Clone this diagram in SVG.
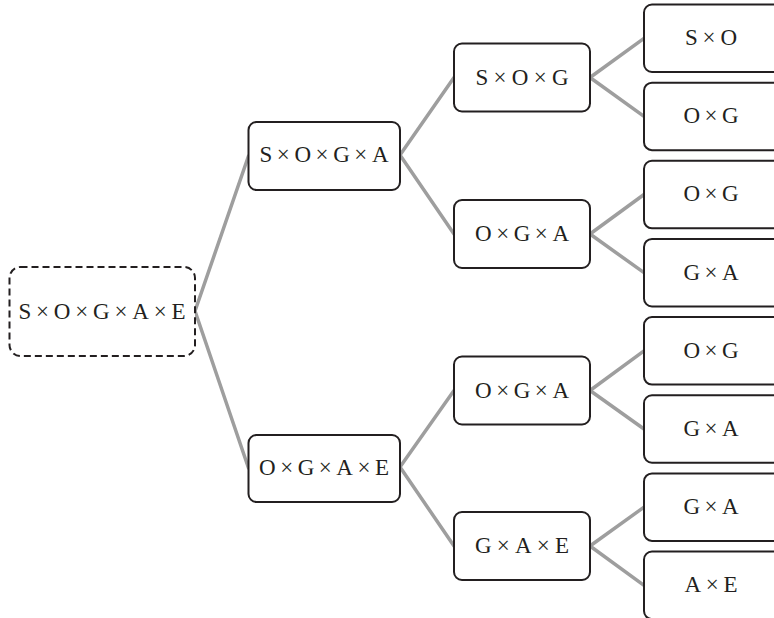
<svg xmlns="http://www.w3.org/2000/svg" width="774" height="618" viewBox="0 0 774 618">
<style>
.box{fill:#fff;stroke:#231f20;stroke-width:2}
.dash{stroke-dasharray:7 4}
.lbl{font-family:"Liberation Serif","Times New Roman",serif;font-size:23px;fill:#231f20;text-anchor:middle}
.conn line{stroke:#9e9e9e;stroke-width:3.5;stroke-linecap:round}
</style>
<rect width="774" height="618" fill="#fff"/>
<g id="connectors" class="conn">
<line x1="195" y1="311" x2="248.5" y2="156"/>
<line x1="195" y1="311" x2="248.5" y2="468"/>
<line x1="400" y1="155" x2="454" y2="77.5"/>
<line x1="400" y1="155" x2="454" y2="234"/>
<line x1="400" y1="467" x2="454" y2="390.5"/>
<line x1="400" y1="467" x2="454" y2="546"/>
<line x1="590" y1="77.5" x2="644" y2="38.3"/>
<line x1="590" y1="77.5" x2="644" y2="116.4"/>
<line x1="590" y1="234" x2="644" y2="194.5"/>
<line x1="590" y1="234" x2="644" y2="272.7"/>
<line x1="590" y1="390.5" x2="644" y2="350.9"/>
<line x1="590" y1="390.5" x2="644" y2="429"/>
<line x1="590" y1="546" x2="644" y2="507.2"/>
<line x1="590" y1="546" x2="644" y2="585.3"/>
</g>
<g id="root">
<rect class="box dash" x="9.5" y="267" width="185.5" height="89" rx="11"/>
<text class="lbl" x="102" y="318.5" textLength="167" lengthAdjust="spacing">S×O×G×A×E</text>
</g>
<g id="n_SOGA">
<rect class="box" x="248.5" y="122" width="151.5" height="68" rx="8"/>
<text class="lbl" x="324" y="162" textLength="129" lengthAdjust="spacing">S×O×G×A</text>
</g>
<g id="n_OGAE">
<rect class="box" x="248.5" y="435" width="151.5" height="67" rx="8"/>
<text class="lbl" x="324" y="475" textLength="130" lengthAdjust="spacing">O×G×A×E</text>
</g>
<g id="n_SOG">
<rect class="box" x="454" y="43.5" width="136" height="68" rx="8"/>
<text class="lbl" x="522" y="84.5" textLength="93" lengthAdjust="spacing">S×O×G</text>
</g>
<g id="n_OGA1">
<rect class="box" x="454" y="200" width="136" height="68" rx="8"/>
<text class="lbl" x="522" y="241" textLength="94" lengthAdjust="spacing">O×G×A</text>
</g>
<g id="n_OGA2">
<rect class="box" x="454" y="356.5" width="136" height="68" rx="8"/>
<text class="lbl" x="522" y="397.5" textLength="94" lengthAdjust="spacing">O×G×A</text>
</g>
<g id="n_GAE">
<rect class="box" x="454" y="512" width="136" height="68" rx="8"/>
<text class="lbl" x="522" y="553" textLength="94" lengthAdjust="spacing">G×A×E</text>
</g>
<g id="l_SO">
<rect class="box" x="644" y="4.5" width="140" height="67.5" rx="8"/>
<text class="lbl" x="711" y="45" textLength="52" lengthAdjust="spacing">S×O</text>
</g>
<g id="l_OG1">
<rect class="box" x="644" y="82.65" width="140" height="67.5" rx="8"/>
<text class="lbl" x="711" y="123.2" textLength="55" lengthAdjust="spacing">O×G</text>
</g>
<g id="l_OG2">
<rect class="box" x="644" y="160.8" width="140" height="67.5" rx="8"/>
<text class="lbl" x="711" y="201.3" textLength="55" lengthAdjust="spacing">O×G</text>
</g>
<g id="l_GA1">
<rect class="box" x="644" y="238.95" width="140" height="67.5" rx="8"/>
<text class="lbl" x="711" y="279.5" textLength="55" lengthAdjust="spacing">G×A</text>
</g>
<g id="l_OG3">
<rect class="box" x="644" y="317.1" width="140" height="67.5" rx="8"/>
<text class="lbl" x="711" y="357.6" textLength="55" lengthAdjust="spacing">O×G</text>
</g>
<g id="l_GA2">
<rect class="box" x="644" y="395.25" width="140" height="67.5" rx="8"/>
<text class="lbl" x="711" y="435.8" textLength="55" lengthAdjust="spacing">G×A</text>
</g>
<g id="l_GA3">
<rect class="box" x="644" y="473.4" width="140" height="67.5" rx="8"/>
<text class="lbl" x="711" y="513.9" textLength="55" lengthAdjust="spacing">G×A</text>
</g>
<g id="l_AE">
<rect class="box" x="644" y="551.55" width="140" height="67.5" rx="8"/>
<text class="lbl" x="711" y="592" textLength="53" lengthAdjust="spacing">A×E</text>
</g>
</svg>
